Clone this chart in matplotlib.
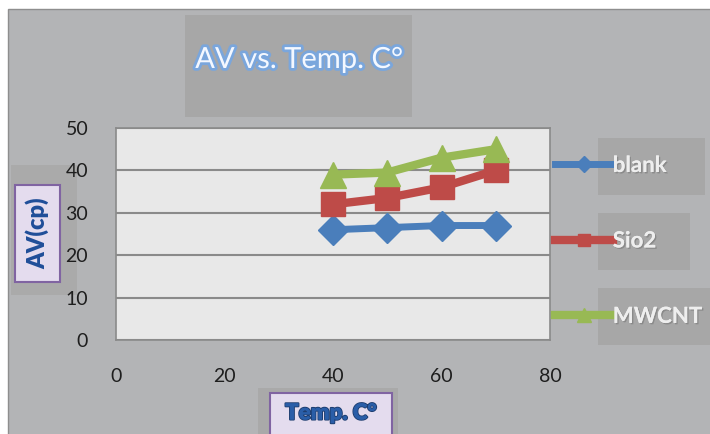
import matplotlib.pyplot as plt
import matplotlib.patheffects as pe
from matplotlib.patches import Rectangle

temps = [40, 50, 60, 70]
blank = [26, 26.5, 27, 27]
sio2 = [32, 33.5, 36, 40]
mwcnt = [39, 39.5, 43, 45]

x_ticks = [0, 20, 40, 60, 80]
y_ticks = [0, 10, 20, 30, 40, 50]

W, H = 710, 434
fig = plt.figure(figsize=(7.1, 4.34), dpi=100)
fig.patch.set_facecolor('white')
plt.rcParams['font.family'] = ['Lato', 'DejaVu Sans']


def box(x0, y0, x1, y1, **kw):
    # pixel coords (top-left origin) -> figure fraction
    r = Rectangle((x0 / W, 1 - y1 / H), (x1 - x0) / W, (y1 - y0) / H,
                  transform=fig.transFigure, **kw)
    fig.add_artist(r)
    return r


# chart area background
box(8, 9, 720, 440, facecolor='#b3b4b6', edgecolor='#8e8e8e', lw=1, zorder=0)
# title box
box(185, 15, 412, 117, facecolor='#a7a7a7', edgecolor='none', zorder=1)
# y label shadow + box
box(11, 165, 77, 295, facecolor='#aaaaaa', edgecolor='none', zorder=1)
box(15, 185, 60, 282, facecolor='#e4dcee', edgecolor='#8064a2', lw=1.5, zorder=2)
# x label shadow + box
box(258, 388, 398, 440, facecolor='#a9a9a9', edgecolor='none', zorder=1)
box(270, 393, 392, 440, facecolor='#e4dcee', edgecolor='#8064a2', lw=1.5, zorder=2)
# legend text boxes
box(598, 138, 705, 195, facecolor='#a7a7a7', edgecolor='none', zorder=1)
box(598, 213, 690, 270, facecolor='#a7a7a7', edgecolor='none', zorder=1)
box(598, 288, 715, 345, facecolor='#a7a7a7', edgecolor='none', zorder=1)

glow = [pe.withStroke(linewidth=4, foreground='#7aa6dc')]
fig.text(299 / W, 1 - 60 / H, 'AV vs. Temp. C°', ha='center', va='center',
         fontsize=21, color='#f4f8ff', path_effects=glow, zorder=3)
fig.text(37 / W, 1 - 233 / H, 'AV(cp)', ha='center', va='center', rotation=90,
         fontsize=17, fontweight='heavy', color='#1f4e99', zorder=3)
fig.text(331 / W, 1 - 413 / H, 'Temp. C°', ha='center', va='center',
         fontsize=16, fontweight='heavy', color='#2a5ea8', zorder=3,
         path_effects=[pe.withStroke(linewidth=1.5, foreground='#1e3e70'), pe.Normal()])

ax = fig.add_axes([116 / W, 1 - 340 / H, 434 / W, 212 / H])
ax.set_facecolor('#e8e8e8')
ax.set_zorder(2)

ax.plot(temps, blank, color='#4a7ebb', lw=5, marker='D', ms=15, label='blank')
ax.plot(temps, sio2, color='#be4b48', lw=6, marker='s', ms=17, label='Sio2')
ax.plot(temps, mwcnt, color='#98b954', lw=6, marker='^', ms=19, label='MWCNT')

ax.set_xlim(0, 80)
ax.set_ylim(0, 50)
ax.set_xticks(x_ticks)
ax.set_yticks(y_ticks)
ax.grid(axis='y', color='#8a8a8a', lw=1.5)
ax.set_axisbelow(True)
for s in ax.spines.values():
    s.set_color('#8a8a8a')
    s.set_linewidth(1.2)
ax.tick_params(length=0, labelsize=14, colors='#1e1e1e', pad=20)

leg = ax.legend(loc='upper left', frameon=False, handlelength=2.6, labelspacing=2.45,
                markerscale=0.55, handletextpad=0.0, borderaxespad=0, borderpad=0,
                prop={'weight': 'bold', 'size': 16})
leg.set_bbox_to_anchor((555 / W, 1 - 155 / H), transform=fig.transFigure)
for t in leg.get_texts():
    t.set_color('#eeeeee')
    t.set_path_effects([pe.withSimplePatchShadow(offset=(1, -1), shadow_rgbFace='#777777', alpha=0.6),
                        pe.Normal()])

fig.savefig('out.png', dpi=100, facecolor=fig.get_facecolor())
